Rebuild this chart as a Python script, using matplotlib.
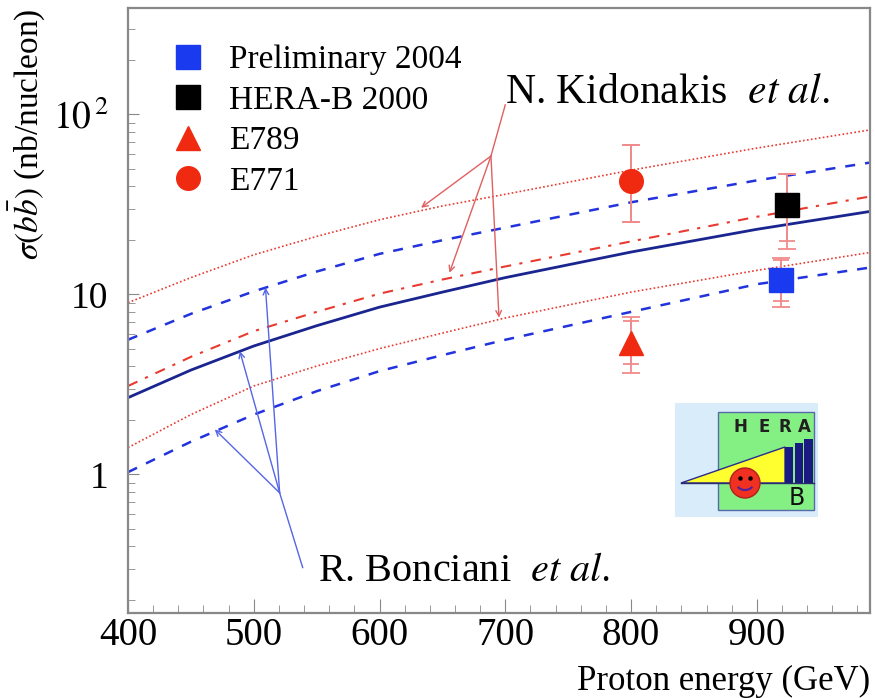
import numpy as np
import matplotlib
matplotlib.use('Agg')
import matplotlib.pyplot as plt
from matplotlib.lines import Line2D
from matplotlib.patches import Rectangle, Polygon, Circle, Arc

plt.rcParams['font.family'] = ['Liberation Serif', 'DejaVu Serif']
plt.rcParams['mathtext.fontset'] = 'stix'

# theory curves, sigma(b bbar) in nb/nucleon vs proton energy (GeV)
energy = [400, 450, 500, 550, 600, 650, 700, 800, 900, 990]
kid_up = [9.0, 12.4, 16.6, 21, 26, 31, 36, 49, 65, 82]
kid_cen = [3.1, 4.5, 6.25, 8.0, 10.1, 12.1, 14.3, 19.7, 27, 35]
kid_lo = [1.41, 2.15, 3.1, 4.0, 5.0, 6.1, 7.4, 10.3, 13.6, 17.1]
bon_up = [5.6, 7.8, 10.4, 13.4, 16.8, 20, 23.5, 32.5, 43, 54]
bon_cen = [2.67, 3.8, 5.17, 6.7, 8.5, 10.3, 12.4, 17.2, 23, 28.9]
bon_lo = [1.03, 1.52, 2.15, 2.9, 3.75, 4.6, 5.6, 8.0, 11.4, 14.1]

# measurements: energy, value, inner (stat) range, outer (total) range
prelim = dict(e=919, v=12.1, lo_in=9.2, hi_in=15.6, lo_out=8.5, hi_out=16.0)
herab = dict(e=924, v=31.2, lo_in=19.8, hi_in=46.4, lo_out=17.8, hi_out=46.4)
e789 = dict(e=800, v=5.4, lo_in=4.1, hi_in=7.1, lo_out=3.67, hi_out=7.5)
e771 = dict(e=800, v=42.6, lo_in=25.1, hi_in=68, lo_out=25.1, hi_out=68)

RED = '#e83a30'
BLUE = '#2233dd'
ERR = '#f08a8a'

fig = plt.figure(figsize=(8.75, 6.98), dpi=100)
ax = fig.add_axes([128/875, 1-613/698, 742/875, 605/698])
ax.set_yscale('log')
ax.set_xlim(400, 990)
ax.set_ylim(0.17, 390)

ax.plot(energy, kid_up, color=RED, lw=1.2, ls=(0, (1, 1.4)))
ax.plot(energy, kid_lo, color=RED, lw=1.2, ls=(0, (1, 1.4)))
ax.plot(energy, kid_cen, color=RED, lw=1.5, ls=(0, (5, 4, 1.5, 4)))
ax.plot(energy, bon_up, color=BLUE, lw=1.8, ls=(0, (4, 4)))
ax.plot(energy, bon_lo, color=BLUE, lw=1.8, ls=(0, (4, 4)))
ax.plot(energy, bon_cen, color='#1a2590', lw=2.0)

def point(d, marker, color, ms=17):
    for lo, hi, cs in [(d['lo_out'], d['hi_out'], 6.5), (d['lo_in'], d['hi_in'], 5.5)]:
        ax.errorbar([d['e']], [d['v']], yerr=[[d['v']-lo], [hi-d['v']]], fmt='none',
                    ecolor=ERR, elinewidth=1.3, capsize=cs, capthick=1.3, zorder=4)
    ax.plot([d['e']], [d['v']], marker=marker, color=color, ms=ms, ls='none', zorder=5)

point(e771, 'o', '#f02a10')
point(e789, '^', '#f02a10')
point(herab, 's', 'black')
point(prelim, 's', '#1a3af0')

# annotations
kid_junc = (688.6, 58.7)
ax.plot([kid_junc[0], 700], [kid_junc[1], 113], color='#e06060', lw=1)
for tgt in [(633, 30.3), (655.6, 13.2), (695, 7.43)]:
    ax.annotate('', xy=tgt, xytext=kid_junc,
                arrowprops=dict(arrowstyle='->', color='#e06060', lw=1, shrinkA=0, shrinkB=0))
bon_junc = (520.6, 0.79)
ax.plot([bon_junc[0], 538.9], [bon_junc[1], 0.304], color='#5566e6', lw=1)
for tgt in [(469, 1.78), (488.9, 4.84), (509.3, 10.9)]:
    ax.annotate('', xy=tgt, xytext=bon_junc,
                arrowprops=dict(arrowstyle='->', color='#5566e6', lw=1, shrinkA=0, shrinkB=0))
ax.text(700, 132, r'N. Kidonakis  $\mathit{et\ al.}$', fontsize=30, va='center', ha='left')
ax.text(550.8, 0.289, r'R. Bonciani  $\mathit{et\ al.}$', fontsize=29, va='center', ha='left')

# legend
handles = [Line2D([], [], marker='s', color='#1a3af0', ls='none', ms=17),
           Line2D([], [], marker='s', color='black', ls='none', ms=17),
           Line2D([], [], marker='^', color='#f02a10', ls='none', ms=17),
           Line2D([], [], marker='o', color='#f02a10', ls='none', ms=17)]
labels = ['Preliminary 2004', 'HERA-B 2000', 'E789', 'E771']
ax.legend(handles, labels, loc='upper left', bbox_to_anchor=(0.0647, 0.939), frameon=False,
          fontsize=24, borderpad=0, borderaxespad=0, handlelength=0.7, handletextpad=0.9,
          labelspacing=0.3)

# axes styling
for side in ['top', 'right', 'left', 'bottom']:
    ax.spines[side].set_color('#888888')
    ax.spines[side].set_linewidth(1.6)
ax.set_xticks([400, 500, 600, 700, 800, 900])
ax.set_xticks(np.arange(420, 990, 20), minor=True)
ax.set_yticks([1, 10, 100])
ax.set_yticklabels(['1', '10', r'$10^{\,2}$'])
ax.yaxis.set_minor_formatter(matplotlib.ticker.NullFormatter())
ax.tick_params(which='both', direction='in', colors='#888888', labelcolor='black',
               top=False, right=False)
ax.tick_params(axis='x', which='major', length=10, labelsize=28, pad=3)
ax.tick_params(axis='x', which='minor', length=6)
ax.tick_params(axis='y', which='major', length=8, labelsize=27, pad=14)
ax.tick_params(axis='y', which='minor', length=5)
ax.set_xlabel('Proton energy (GeV)', fontsize=25, loc='right', labelpad=8)
ax.set_ylabel(r'$\sigma(b\bar{b})$ (nb/nucleon)', fontsize=24, loc='top', labelpad=4)

# HERA-B logo (pixel coordinates in an inset)
lg = fig.add_axes([675/875, 1-517/698, 144/875, 114/698])
lg.set_xlim(675, 819)
lg.set_ylim(517, 403)
lg.axis('off')
lg.add_patch(Rectangle((675, 403), 143, 114, color='#d8ecfa', lw=0))
lg.add_patch(Rectangle((718, 412), 96, 98, facecolor='#84f084', edgecolor='#5868a8', lw=1))
lg.add_patch(Polygon([(681, 483), (785, 447), (785, 483)], closed=True,
                     facecolor='#ffff30', edgecolor='#2a2a90', lw=1))
lg.plot([681, 814], [483, 483], color='#2a2a70', lw=1)
for x0, x1, top in [(785, 793, 447), (795, 803, 443), (804, 813, 439)]:
    lg.add_patch(Rectangle((x0, top), x1-x0, 483-top, color='#1a1a80', lw=0))
lg.add_patch(Circle((745, 483), 15, facecolor='#f03020', edgecolor='#b02020', lw=1, zorder=3))
lg.plot([740, 750], [478, 478], 'o', color='black', ms=2.2, zorder=4)
lg.add_patch(Arc((745, 484), 16, 12, theta1=20, theta2=160, color='#5020a0', lw=1.5, zorder=4))
for ch, xc in zip('HERA', [740, 764, 785, 804]):
    lg.text(xc, 427, ch, fontsize=12, fontweight='bold', family='DejaVu Sans',
            ha='center', va='center', color='#202020')
lg.text(797, 498, 'B', fontsize=17, family='DejaVu Sans', ha='center', va='center', color='#101010')

fig.savefig('out.png', dpi=100)
